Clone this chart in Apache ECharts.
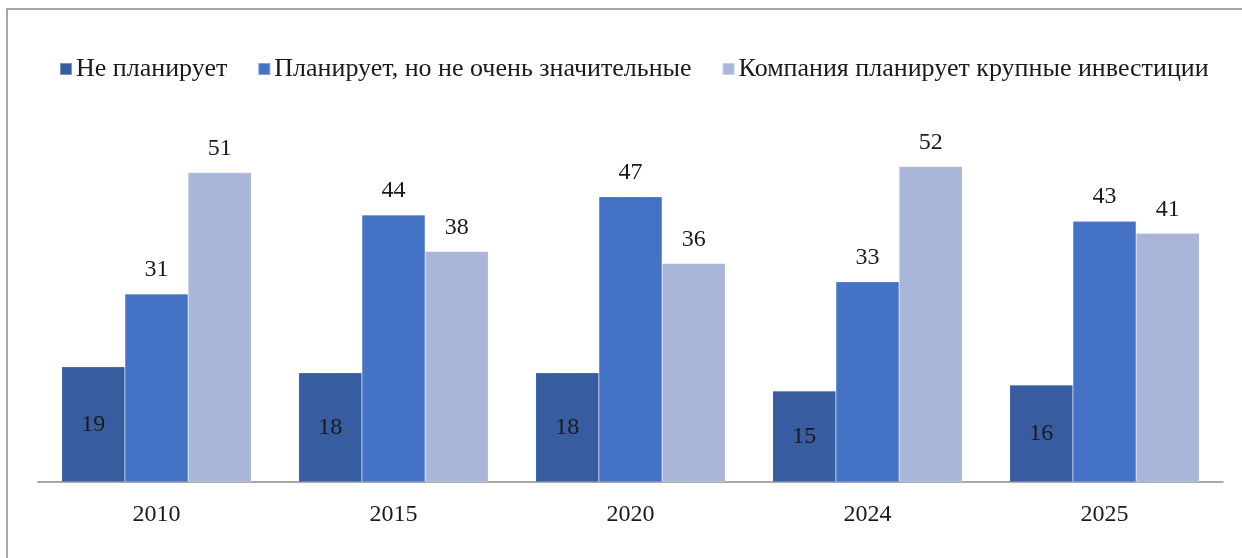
<!DOCTYPE html>
<html>
<head>
<meta charset="utf-8">
<script src="https://cdn.jsdelivr.net/npm/echarts@6/dist/echarts.min.js"></script>
<style>
  html, body { margin: 0; padding: 0; background: #fff; }
  #chart { width: 1242px; height: 558px; }
</style>
</head>
<body>
<div id="chart"></div>
<script>
  var years = ['2010', '2015', '2020', '2024', '2025'];
  var seriesNames = ['Не планирует', 'Планирует, но не очень значительные', 'Компания планирует крупные инвестиции'];
  var notPlanning = [19, 18, 18, 15, 16];
  var smallInvest = [31, 44, 47, 33, 43];
  var bigInvest = [51, 38, 36, 52, 41];

  var font = '"Liberation Serif", "DejaVu Serif", serif';
  var myChart = echarts.init(document.getElementById('chart'));

  function makeSeries (name, data, color, pos) {
    return {
      name: name,
      type: 'bar',
      data: data,
      barGap: '0%',
      barCategoryGap: '20%',
      itemStyle: { color: color, borderColor: 'rgba(255,255,255,0.35)', borderWidth: 0.5 },
      label: {
        show: true,
        position: pos,
        distance: 12,
        color: '#1a1a1a',
        fontFamily: font,
        fontSize: 24
      }
    };
  }

  myChart.setOption({
    animation: false,
    graphic: [{
      type: 'rect',
      shape: { x: 7, y: 9, width: 1300, height: 700 },
      style: { fill: 'none', stroke: '#8c8c8c', lineWidth: 1.5 },
      silent: true
    }],
    legend: {
      top: 51,
      left: 54,
      itemWidth: 12,
      itemHeight: 12,
      itemGap: 30,
      icon: 'rect',
      textStyle: { fontFamily: font, fontSize: 26, color: '#1a1a1a', padding: [0, 0, 0, -1] },
      data: seriesNames
    },
    grid: {
      left: 38,
      right: 19,
      top: 118,
      bottom: 76
    },
    xAxis: {
      type: 'category',
      data: years,
      axisTick: { show: false },
      axisLine: { lineStyle: { color: '#8c8c8c', width: 1.5 } },
      axisLabel: { fontFamily: font, fontSize: 24, color: '#1a1a1a', margin: 21 }
    },
    yAxis: {
      type: 'value',
      min: 0,
      max: 60,
      show: false,
      splitLine: { show: false }
    },
    series: [
      makeSeries(seriesNames[0], notPlanning, '#375c9f', 'inside'),
      makeSeries(seriesNames[1], smallInvest, '#4472c4', 'top'),
      makeSeries(seriesNames[2], bigInvest, '#a9b6da', 'top')
    ]
  });
</script>
</body>
</html>
